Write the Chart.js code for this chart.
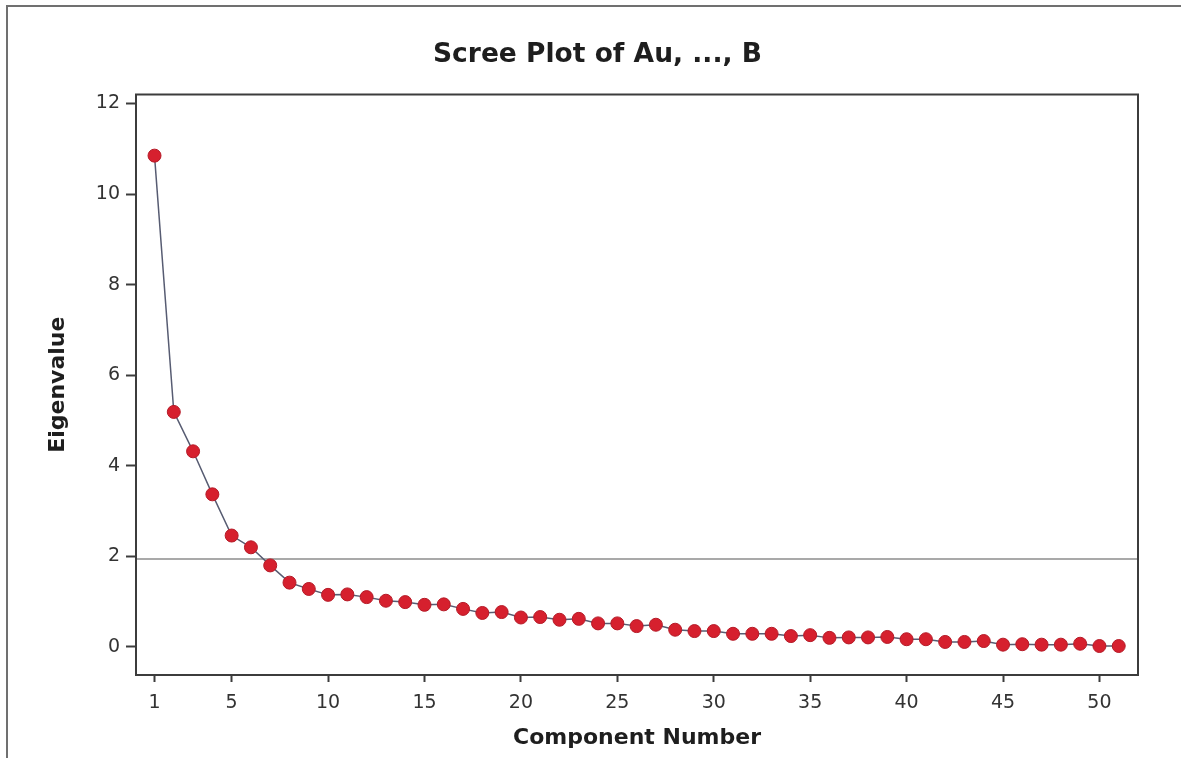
<!DOCTYPE html>
<html>
<head>
<meta charset="utf-8">
<script src="https://cdn.jsdelivr.net/npm/chart.js@4/dist/chart.umd.min.js"></script>
<style>
  html, body { margin: 0; padding: 0; background: #ffffff; }
  #wrap { position: relative; width: 1181px; height: 758px; }
  #frame { position: absolute; left: 6px; top: 5px; right: 0; bottom: 0;
           border-left: 2px solid #707070; border-top: 2px solid #707070; pointer-events: none; }
  canvas { position: absolute; left: 0; top: 0; }
</style>
</head>
<body>
<div id="wrap">
  <canvas id="chart" width="1181" height="758"></canvas>
  <div id="frame"></div>
</div>
<script>
// Principal component eigenvalues, one per component
const components = [
  1, 2, 3, 4, 5, 6, 7, 8, 9, 10,
  11, 12, 13, 14, 15, 16, 17, 18, 19, 20,
  21, 22, 23, 24, 25, 26, 27, 28, 29, 30,
  31, 32, 33, 34, 35, 36, 37, 38, 39, 40,
  41, 42, 43, 44, 45, 46, 47, 48, 49, 50, 51
];
const eigenvalues = [
  10.85, 5.19, 4.32, 3.37, 2.46, 2.20, 1.80, 1.42, 1.28, 1.15,
  1.16, 1.10, 1.02, 0.99, 0.93, 0.94, 0.84, 0.75, 0.77, 0.65,
  0.66, 0.60, 0.62, 0.52, 0.52, 0.46, 0.49, 0.38, 0.35, 0.35,
  0.29, 0.29, 0.29, 0.24, 0.26, 0.20, 0.21, 0.21, 0.22, 0.17,
  0.17, 0.11, 0.11, 0.13, 0.05, 0.06, 0.05, 0.05, 0.07, 0.02, 0.02
];
// Horizontal reference level
const referenceLevel = 1.94;

// Axis ticks and ranges
const xTicks = [1, 5, 10, 15, 20, 25, 30, 35, 40, 45, 50];
const yTicks = [0, 2, 4, 6, 8, 10, 12];
const xRange = [0.04, 52.0];
const yRange = [-0.62, 12.2];

const titleText = 'Scree Plot of Au, ..., B';
const xTitle = 'Component Number';
const yTitle = 'Eigenvalue';

const FONT = '"DejaVu Sans", Verdana, sans-serif';
const AXIS = '#3c3c3c';

const points = components.map((c, i) => ({ x: c, y: eigenvalues[i] }));
const refPoints = [{ x: xRange[0], y: referenceLevel }, { x: xRange[1], y: referenceLevel }];

// Closed frame around the plotting area
const plotFrame = {
  id: 'plotFrame',
  afterDraw(chart) {
    const { ctx, chartArea: a } = chart;
    ctx.save();
    ctx.strokeStyle = AXIS;
    ctx.lineWidth = 2;
    ctx.strokeRect(a.left, a.top, a.right - a.left, a.bottom - a.top);
    ctx.restore();
  }
};

// Chart heading, centred over the page rather than the padded layout box
const heading = {
  id: 'heading',
  afterDraw(chart) {
    const { ctx } = chart;
    ctx.save();
    ctx.fillStyle = '#1e1e1e';
    ctx.font = 'bold 26.5px ' + FONT;
    ctx.textAlign = 'center';
    ctx.textBaseline = 'middle';
    ctx.fillText(titleText, 597.5, 55.5);
    ctx.restore();
  }
};

new Chart(document.getElementById('chart'), {
  type: 'scatter',
  data: {
    datasets: [
      {
        data: refPoints,
        showLine: true,
        borderColor: '#8c8c8c',
        borderWidth: 1.5,
        pointRadius: 0,
        order: 2
      },
      {
        data: points,
        showLine: true,
        borderColor: '#575c72',
        borderWidth: 1.5,
        pointRadius: 6.5,
        pointBackgroundColor: '#d6202e',
        pointBorderColor: '#b51a27',
        pointBorderWidth: 1,
        order: 1
      }
    ]
  },
  options: {
    responsive: false,
    animation: false,
    events: [],
    layout: { padding: { left: 0, right: 43, top: 94.5, bottom: 0 } },
    plugins: {
      legend: { display: false },
      tooltip: { enabled: false },
      title: { display: false }
    },
    scales: {
      x: {
        type: 'linear',
        min: xRange[0],
        max: xRange[1],
        afterBuildTicks: s => { s.ticks = xTicks.map(v => ({ value: v })); },
        afterFit: s => { s.height = 83; },
        border: { display: true, color: AXIS, width: 2 },
        grid: { drawOnChartArea: false, drawTicks: true, tickLength: 7, color: AXIS, tickWidth: 2 },
        ticks: { color: '#333', font: { family: FONT, size: 19 }, padding: 10, maxRotation: 0 },
        title: {
          display: true,
          text: xTitle,
          color: '#1e1e1e',
          font: { family: FONT, size: 22, weight: 'bold', lineHeight: 1.2 },
          padding: { top: 0, bottom: 6.8 }
        }
      },
      y: {
        type: 'linear',
        min: yRange[0],
        max: yRange[1],
        afterBuildTicks: s => { s.ticks = yTicks.map(v => ({ value: v })); },
        afterFit: s => { s.width = 136; },
        border: { display: true, color: AXIS, width: 2 },
        grid: { drawOnChartArea: false, drawTicks: true, tickLength: 10, color: AXIS, tickWidth: 2 },
        ticks: { color: '#333', font: { family: FONT, size: 19 }, padding: 6 },
        title: {
          display: true,
          text: yTitle,
          color: '#1e1e1e',
          font: { family: FONT, size: 22, weight: 'bold', lineHeight: 1.2 },
          padding: { top: 45.5, bottom: 0 }
        }
      }
    }
  },
  plugins: [plotFrame, heading]
});
</script>
</body>
</html>
